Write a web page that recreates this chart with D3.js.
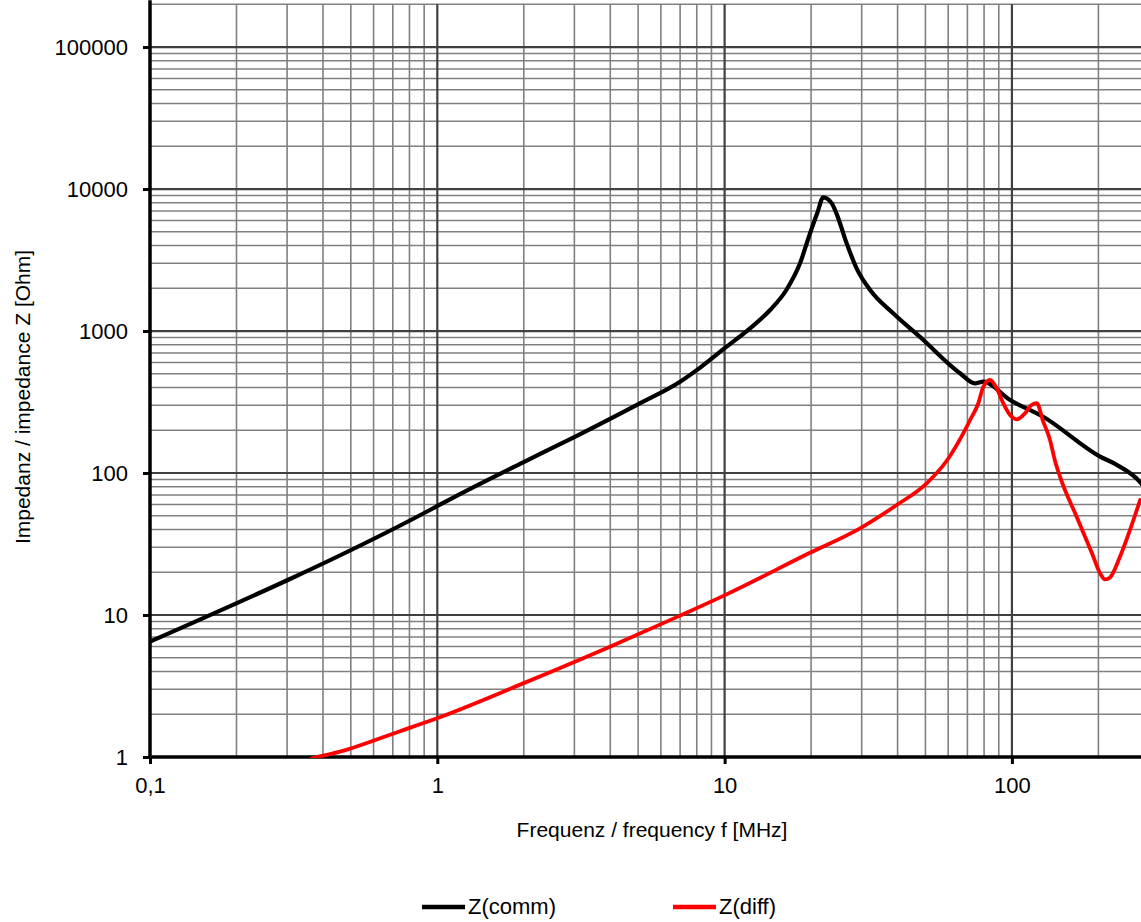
<!DOCTYPE html>
<html>
<head>
<meta charset="utf-8">
<script src="https://cdn.jsdelivr.net/npm/d3@7"></script>
<style>
  html, body { margin: 0; padding: 0; background: #fff; }
  svg { display: block; }
  text { font-family: "Liberation Sans", Arial, sans-serif; }
</style>
</head>
<body>
<svg id="chart" width="1141" height="922"></svg>
<script>
// ---- data ----
const commFreq = [0.1, 0.943, 1.107, 1.99, 3.01, 5.01, 7.0, 8.2, 10.03, 12.26, 14.4, 16.4, 18.3, 19.65, 21.0, 22.06, 23.6, 24.5, 26.6, 28.8, 32.1, 38.6, 49.2, 60.9, 66, 74.4, 79.5, 98.5, 128.5, 202, 232, 281, 290];
const commZ    = [6.49, 54.9, 65.3, 119, 180, 306, 440, 550, 760, 1045, 1406, 1945, 2997, 4616, 6745, 8737, 7930, 6745, 4144, 2763, 1945, 1332, 864, 576, 504, 428, 440, 327, 249, 131, 114, 85, 78];

const diffFreq = [0.3655, 0.4585, 0.7415, 1.008, 1.99, 3.99, 7.0, 10.03, 19.65, 29.6, 39.7, 50.5, 59.9, 68.7, 71.5, 76.4, 79.5, 83.9, 88.5, 93.3, 98.5, 103.9, 111, 117, 122, 128.5, 135.7, 141, 147, 168, 190, 202.6, 211, 219.6, 237.7, 257.6, 279.4];
const diffZ    = [0.98, 1.09, 1.52, 1.89, 3.30, 5.98, 9.9, 13.8, 27.2, 40.8, 59.5, 84.6, 125.5, 201, 236, 310, 405, 452, 395, 310, 256, 239, 263, 301, 310, 230, 171, 123.6, 94.2, 49.2, 27.2, 19.7, 17.8, 18.4, 25.7, 39.7, 64.5];

const xTickValues = [0.1, 1, 10, 100];
const xTickLabels = ["0,1", "1", "10", "100"];
const yTickValues = [1, 10, 100, 1000, 10000, 100000];
const yTickLabels = ["1", "10", "100", "1000", "10000", "100000"];

const seriesNames = ["Z(comm)", "Z(diff)"];
const seriesColors = ["#000000", "#ff0000"];

// ---- layout ----
const svg = d3.select("#chart");
const pLeft = 150, pBottom = 757;
const x = d3.scaleLog().domain([0.1, 300]).range([150, 1149]);
const y = d3.scaleLog().domain([1, 200000]).range([757, 4.3]);
const pRight = x.range()[1], pTop = y.range()[1];

// grid lines
const xMinor = [], yMinor = [];
[0.1, 1, 10, 100].forEach(d => { for (let m = 2; m <= 9; m++) { const v = m * d; if (v <= 300) xMinor.push(v); } });
[1, 10, 100, 1000, 10000].forEach(d => { for (let m = 2; m <= 9; m++) yMinor.push(m * d); });

const grid = svg.append("g");
grid.selectAll(".xmin").data(xMinor).join("line")
  .attr("x1", d => x(d)).attr("x2", d => x(d)).attr("y1", pTop).attr("y2", pBottom)
  .attr("stroke", "#808080").attr("stroke-width", 1.6);
grid.selectAll(".ymin").data(yMinor).join("line")
  .attr("x1", pLeft).attr("x2", pRight).attr("y1", d => y(d)).attr("y2", d => y(d))
  .attr("stroke", "#808080").attr("stroke-width", 1.6);
grid.append("line").attr("x1", pLeft).attr("x2", pRight).attr("y1", pTop).attr("y2", pTop)
  .attr("stroke", "#808080").attr("stroke-width", 1.6);
grid.selectAll(".xmaj").data(xTickValues.slice(1)).join("line")
  .attr("x1", d => x(d)).attr("x2", d => x(d)).attr("y1", pTop).attr("y2", pBottom)
  .attr("stroke", "#404040").attr("stroke-width", 2.2);
grid.selectAll(".ymaj").data(yTickValues.slice(1)).join("line")
  .attr("x1", pLeft).attr("x2", pRight).attr("y1", d => y(d)).attr("y2", d => y(d))
  .attr("stroke", "#404040").attr("stroke-width", 2.2);

// axes
const xAxis = d3.axisBottom(x).tickValues(xTickValues).tickFormat((d, i) => xTickLabels[i]).tickSizeInner(7).tickSizeOuter(0).tickPadding(13);
const yAxis = d3.axisLeft(y).tickValues(yTickValues).tickFormat((d, i) => yTickLabels[i]).tickSizeInner(7).tickSizeOuter(0).tickPadding(15);

const gx = svg.append("g").attr("transform", `translate(0,${pBottom})`).call(xAxis);
const gy = svg.append("g").attr("transform", `translate(${pLeft},0)`).call(yAxis);
[gx, gy].forEach(g => {
  g.select(".domain").attr("stroke", "#000").attr("stroke-width", 3.5);
  g.selectAll(".tick line").attr("stroke", "#000").attr("stroke-width", 3);
  g.selectAll(".tick text").attr("fill", "#000").style("font-size", "22px")
    .style("font-family", "'Liberation Sans', Arial, sans-serif");
});
gy.select(".domain").attr("d", `M0,${pBottom + 1.7}V${pTop - 4}`);
gx.select(".domain").attr("d", `M${pLeft - 1.7},0H${pRight}`);
gy.selectAll(".tick text").attr("dy", "0.36em");

// axis titles
svg.append("text").attr("x", 652).attr("y", 837).attr("text-anchor", "middle")
  .style("font-size", "21px").attr("fill", "#000").text("Frequenz / frequency f [MHz]");
svg.append("text").attr("transform", "translate(30,397) rotate(-90)").attr("text-anchor", "middle")
  .style("font-size", "21px").attr("fill", "#000").text("Impedanz / impedance Z [Ohm]");

// clip
svg.append("defs").append("clipPath").attr("id", "plotclip").append("rect")
  .attr("x", pLeft).attr("y", pTop).attr("width", pRight - pLeft).attr("height", pBottom - pTop + 1);

const line = d3.line().x(d => x(d[0])).y(d => y(d[1])).curve(d3.curveMonotoneX);
const series = [
  d3.zip(commFreq, commZ),
  d3.zip(diffFreq, diffZ)
];
const widths = [4.2, 3.8];
const plot = svg.append("g").attr("clip-path", "url(#plotclip)");
series.forEach((s, i) => {
  plot.append("path").datum(s).attr("d", line).attr("fill", "none")
    .attr("stroke", seriesColors[i]).attr("stroke-width", widths[i])
    .attr("stroke-linejoin", "round").attr("stroke-linecap", "round");
});

// legend
const legendX = [422, 673];
seriesNames.forEach((n, i) => {
  const g = svg.append("g");
  g.append("line").attr("x1", legendX[i]).attr("x2", legendX[i] + 43).attr("y1", 907).attr("y2", 907)
    .attr("stroke", seriesColors[i]).attr("stroke-width", 4.5);
  g.append("text").attr("x", legendX[i] + 46).attr("y", 914).style("font-size", "22px")
    .attr("fill", "#000").text(n);
});
</script>
</body>
</html>
